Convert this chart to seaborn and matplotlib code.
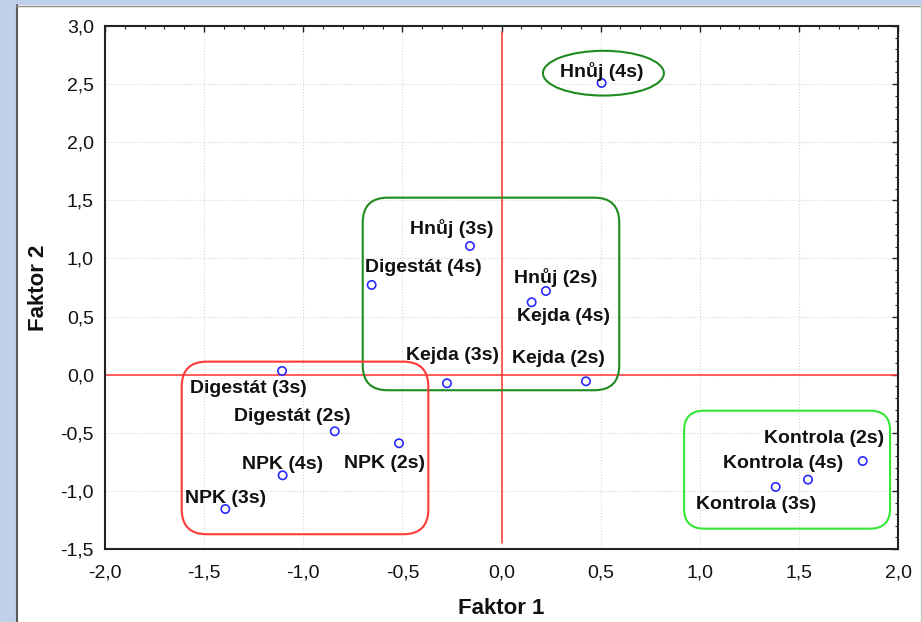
import matplotlib
matplotlib.use("Agg")
import matplotlib.pyplot as plt
from matplotlib.patches import FancyBboxPatch, Ellipse, Rectangle
from matplotlib.lines import Line2D
from matplotlib.ticker import MultipleLocator, FuncFormatter
import seaborn as sns
import pandas as pd

# Factor scores per treatment
labels = [
    "Hnůj (4s)", "Hnůj (3s)", "Digestát (4s)", "Hnůj (2s)", "Kejda (4s)",
    "Kejda (3s)", "Kejda (2s)", "Digestát (3s)", "Digestát (2s)", "NPK (2s)",
    "NPK (4s)", "NPK (3s)", "Kontrola (2s)", "Kontrola (4s)", "Kontrola (3s)",
]
faktor1 = [0.505, -0.159, -0.655, 0.224, 0.152,
           -0.275, 0.426, -1.107, -0.841, -0.517,
           -1.104, -1.393, 1.822, 1.546, 1.383]
faktor2 = [2.51, 1.107, 0.772, 0.72, 0.623,
           -0.074, -0.057, 0.032, -0.487, -0.59,
           -0.866, -1.156, -0.743, -0.903, -0.966]

x_ticks = [-2.0, -1.5, -1.0, -0.5, 0.0, 0.5, 1.0, 1.5, 2.0]
y_ticks = [-1.5, -1.0, -0.5, 0.0, 0.5, 1.0, 1.5, 2.0, 2.5, 3.0]

# Label placement relative to each point (pixels, y up)
label_offsets = [(0, 11), (-18, 18), (52, 17), (10, 13), (32, -14),
                 (6, 28), (-28, 23), (-34, -18), (-42, 15), (-15, -20),
                 (0, 11), (0, 11), (-39, 23), (-25, 16), (-20, -18)]

df = pd.DataFrame({"Faktor 1": faktor1, "Faktor 2": faktor2, "label": labels})

sns.set_style("white")
plt.rcParams["font.family"] = ["Liberation Sans", "DejaVu Sans"]

W, H = 922, 622
fig = plt.figure(figsize=(W / 100, H / 100), dpi=100, facecolor="#c0d0ea")

# White panel with its frame
fig.patches.append(Rectangle((16 / W, 0), 1 - 16 / W, (H - 5) / H,
                             transform=fig.transFigure, facecolor="white",
                             edgecolor="none", zorder=-10))
fig.lines.append(Line2D([16.5 / W, 16.5 / W], [0, (H - 5) / H], transform=fig.transFigure,
                        color="#5a5a5a", lw=1.5, zorder=-9))
fig.lines.append(Line2D([16 / W, 1], [(H - 5.5) / H, (H - 5.5) / H], transform=fig.transFigure,
                        color="#8a8a8a", lw=1.0, zorder=-9))
fig.lines.append(Line2D([920.5 / W, 920.5 / W], [0, (H - 5) / H], transform=fig.transFigure,
                        color="#c8c8c8", lw=1.0, zorder=-9))

ax_l, ax_r, ax_t, ax_b = 105, 898, 26, 549
ax = fig.add_axes([ax_l / W, (H - ax_b) / H, (ax_r - ax_l) / W, (ax_b - ax_t) / H])
ax.set_facecolor("white")

xmin, xmax, ymin, ymax = -2.0, 2.0, -1.5, 3.0
ax.set_xlim(xmin, xmax)
ax.set_ylim(ymin, ymax)

# Reference axes through the origin
ax.axhline(0, color="#ff3030", lw=1.1, zorder=2)
ax.plot([0, 0], [-1.45, 2.95], color="#ff3030", lw=1.1, zorder=2)

sns.scatterplot(data=df, x="Faktor 1", y="Faktor 2", ax=ax, marker="o",
                s=36, facecolors="none", edgecolor="#2a2aff", linewidth=1.2, zorder=4)

for lab, x, y, (dx, dy) in zip(labels, faktor1, faktor2, label_offsets):
    ax.annotate(lab, (x, y), xytext=(dx, dy), textcoords="offset pixels",
                ha="center", va="center", fontsize=14, fontweight="bold",
                color="#111111", zorder=5)

# Cluster outlines
px_x = (ax_r - ax_l) / (xmax - xmin)
px_y = (ax_b - ax_t) / (ymax - ymin)
aspect = px_x / px_y


def rounded_box(x0, y0, x1, y1, radius_px, color):
    r = radius_px / px_x
    ax.add_patch(FancyBboxPatch((x0, y0), x1 - x0, y1 - y0,
                                boxstyle=f"round,pad=0,rounding_size={r}",
                                mutation_aspect=aspect, facecolor="none",
                                edgecolor=color, lw=1.5, zorder=3))


rounded_box(-0.700, -0.134, 0.594, 1.523, 25, "#1f8a1f")
rounded_box(-1.613, -1.373, -0.369, 0.112, 25, "#ff3838")
rounded_box(0.921, -1.325, 1.960, -0.310, 20, "#33e833")
ax.add_patch(Ellipse((0.514, 2.594), 0.61, 0.385, facecolor="none",
                     edgecolor="#1f8a1f", lw=1.5, zorder=3))

# Axes styling
fmt = FuncFormatter(lambda v, _: f"{v:.1f}".replace(".", ","))
ax.set_xticks(x_ticks)
ax.set_yticks(y_ticks)
ax.xaxis.set_major_formatter(fmt)
ax.yaxis.set_major_formatter(fmt)
ax.xaxis.set_minor_locator(MultipleLocator(0.1))
ax.yaxis.set_minor_locator(MultipleLocator(0.1))
ax.tick_params(which="both", direction="in", top=True, right=True, color="#222222")
ax.tick_params(which="major", length=4, width=1.0, labelsize=14, labelcolor="#111111")
ax.tick_params(axis="x", which="major", pad=11)
ax.tick_params(axis="y", which="major", pad=8)
ax.tick_params(which="minor", length=2, width=0.8)
ax.grid(True, which="major", color="#d6d6d6", lw=0.8, ls=":")
ax.set_axisbelow(True)
for sp in ax.spines.values():
    sp.set_visible(True)
    sp.set_color("#222222")
    sp.set_linewidth(1.5)

ax.set_xlabel("Faktor 1", fontsize=16, fontweight="bold", labelpad=12, color="#111111")
ax.set_ylabel("Faktor 2", fontsize=16, fontweight="bold", labelpad=8, color="#111111")

fig.savefig("out.png", dpi=100, facecolor=fig.get_facecolor())
